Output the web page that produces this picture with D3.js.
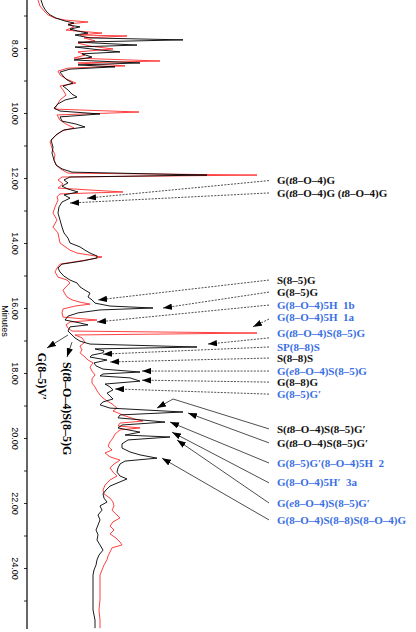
<!DOCTYPE html>
<html><head><meta charset="utf-8">
<script src="https://cdn.jsdelivr.net/npm/d3@7"></script>
<style>body{margin:0;background:#fff}svg{display:block}</style>
</head><body><svg id="c" width="416" height="632"></svg>
<script>
// ---- data (retention time in minutes, detector signal in arbitrary units) ----
const blackTime = [6.52,6.71,6.86,6.98,7.08,7.17,7.23,7.29,7.35,7.42,7.48,7.54,7.60,7.69,7.75,7.82,7.91,7.97,8.06,8.12,8.18,8.28,8.37,8.46,8.52,8.58,8.65,8.74,8.86,8.98,9.08,9.17,9.29,9.42,9.51,9.60,9.72,9.85,9.94,10.03,10.12,10.25,10.34,10.43,10.52,10.65,10.83,11.05,11.23,11.45,11.60,11.72,11.82,11.91,11.97,12.06,12.15,12.25,12.34,12.43,12.52,12.62,12.74,12.89,13.08,13.29,13.51,13.69,13.85,14.00,14.12,14.22,14.31,14.40,14.46,14.55,14.65,14.77,14.89,15.02,15.14,15.23,15.35,15.45,15.54,15.66,15.75,15.85,15.94,16.00,16.06,16.15,16.25,16.37,16.46,16.52,16.58,16.71,16.83,16.92,17.02,17.11,17.20,17.26,17.32,17.38,17.45,17.51,17.60,17.69,17.78,17.88,17.97,18.03,18.09,18.15,18.25,18.34,18.43,18.52,18.62,18.71,18.80,18.89,18.98,19.08,19.20,19.29,19.38,19.51,19.60,19.69,19.82,19.91,19.97,20.06,20.18,20.31,20.43,20.52,20.62,20.71,20.80,20.92,21.05,21.17,21.26,21.35,21.48,21.60,21.72,21.85,21.97,22.09,22.22,22.37,22.52,22.68,22.83,22.98,23.14,23.29,23.45,23.60,23.75,23.91,24.06,24.22,24.37,24.68,24.98,25.29,25.60,25.85];
const blackSignal = [14,16,19,23,29,38,47,41,53,43,51,61,48,63,156,51,110,48,73,93,55,65,47,113,51,88,43,33,36,40,46,36,41,45,50,38,31,27,33,73,33,35,49,58,37,30,24,26,25,27,29,35,45,180,43,37,41,35,41,51,37,43,35,32,31,33,35,37,41,43,53,58,63,70,70,56,35,31,33,37,43,50,53,58,63,61,65,68,83,126,73,51,41,38,53,61,43,41,45,48,53,63,170,68,77,76,65,63,80,67,69,76,113,76,73,103,113,78,83,86,80,83,86,76,73,83,156,93,91,138,95,91,113,98,143,101,95,95,103,113,130,98,93,91,90,93,100,93,83,79,76,77,80,73,75,71,73,71,69,71,70,73,76,72,70,69,67,66,66,66,66,66,68,68];
const redTime = [6.52,6.71,6.86,6.98,7.08,7.14,7.20,7.26,7.35,7.45,7.54,7.60,7.63,7.69,7.78,7.85,7.94,8.03,8.12,8.22,8.31,8.40,8.46,8.55,8.62,8.71,8.83,8.95,9.08,9.17,9.29,9.45,9.60,9.75,9.88,9.97,10.06,10.22,10.34,10.46,10.55,10.71,10.89,11.08,11.29,11.45,11.63,11.75,11.85,11.91,11.97,12.06,12.18,12.31,12.43,12.49,12.58,12.68,12.89,13.08,13.29,13.51,13.69,14.00,14.22,14.31,14.43,14.52,14.65,14.77,14.89,15.05,15.14,15.23,15.35,15.45,15.57,15.66,15.75,15.82,15.88,15.94,16.03,16.15,16.28,16.37,16.43,16.52,16.62,16.71,16.77,16.83,16.92,17.05,17.17,17.29,17.38,17.51,17.60,17.69,17.82,17.94,18.06,18.18,18.31,18.43,18.55,18.68,18.77,18.86,18.95,19.08,19.17,19.23,19.32,19.42,19.48,19.54,19.63,19.69,19.75,19.88,20.00,20.12,20.25,20.37,20.46,20.58,20.68,20.80,20.92,21.05,21.17,21.29,21.45,21.60,21.72,21.85,21.97,22.09,22.22,22.34,22.46,22.58,22.71,22.83,22.95,23.08,23.20,23.29,23.38,23.51,23.63,23.75,23.91,24.06,24.22,24.37,24.68,24.98,25.29,25.60,25.85];
const redSignal = [11,13,17,21,28,38,61,41,47,39,75,53,100,57,68,51,63,86,51,58,47,133,51,98,41,31,33,39,49,33,36,39,33,30,28,112,30,33,39,47,35,28,23,25,28,27,30,35,41,230,35,31,36,31,96,33,30,31,28,26,30,26,31,33,43,50,75,60,33,30,28,31,40,43,39,36,38,40,45,53,63,48,36,35,36,70,43,39,41,45,230,48,55,58,53,55,53,58,61,66,63,65,68,65,65,68,70,73,76,80,85,90,86,91,98,108,116,93,91,113,93,88,86,83,81,85,78,83,93,87,83,86,90,83,78,76,77,83,86,87,85,89,93,86,83,87,83,89,93,95,85,83,81,80,77,75,73,73,73,73,72,73,73];

const majorTicks = [8,10,12,14,16,18,20,22,24];
const minorTicks = d3.range(7,26);
const axisTitle = "Minutes";

// annotations: label row time, arrow tip (time, signal)
const annotations = [
 {parts:[["G("],["t",1],["8–O–4)G"]], color:"k", labelT:12.08, tipT:12.62, tipI:60},
 {parts:[["G("],["t",1],["8–O–4)G ("],["t",1],["8–O–4)G"]], color:"k", labelT:12.46, tipT:12.77, tipI:43},
 {parts:[["S(8–5)G"]], color:"k", labelT:15.14, tipT:15.75, tipI:71},
 {parts:[["G(8–5)G"]], color:"k", labelT:15.51, tipT:16.00, tipI:136},
 {parts:[["G(8–O–4)5H\u00a0\u00a01b"]], color:"b", labelT:15.91, tipT:16.43, tipI:70},
 {parts:[["G(8–O–4)5H\u00a0\u00a01a"]], color:"b", labelT:16.28, lineT:16.34, tipT:16.58, tipI:226},
 {parts:[["G("],["t",1],["8–O–4)S(8–5)G"]], color:"b", labelT:16.77, lineT:16.92, tipT:17.11, tipI:181},
 {parts:[["SP(8–8)S"]], color:"b", labelT:17.20, tipT:17.42, tipI:76},
 {parts:[["S(8–8)S"]], color:"k", labelT:17.54, tipT:17.66, tipI:83},
 {parts:[["G("],["e",1],["8–O–4)S(8–5)G"]], color:"b", labelT:17.94, tipT:17.94, tipI:115},
 {parts:[["G(8–8)G"]], color:"k", labelT:18.28, tipT:18.22, tipI:115},
 {parts:[["G(8–5)G′"]], color:"b", labelT:18.65, tipT:18.49, tipI:88},
 {parts:[["S("],["t",1],["8–O–4)S(8–5)G′"]], color:"k", labelT:19.72, solid:1, bendT:18.80, bendI:146, tipT:19.08, tipI:130},
 {parts:[["G("],["t",1],["8–O–4)S(8–5)G′"]], color:"k", labelT:20.15, solid:1, tipT:19.23, tipI:161},
 {parts:[["G(8–5)G′(8–O–4)5H\u00a0\u00a02"]], color:"b", labelT:20.77, solid:1, tipT:19.51, tipI:143},
 {parts:[["G(8–O–4)5H′\u00a0\u00a03a"]], color:"b", labelT:21.38, solid:1, tipT:19.82, tipI:145},
 {parts:[["G("],["e",1],["8–O–4)S(8–5)G′"]], color:"b", labelT:22.00, solid:1, tipT:20.06, tipI:150},
 {parts:[["G(8–O–4)S(8–8)S(8–O–4)G"]], color:"b", labelT:22.52, solid:1, tipT:20.62, tipI:135}
];
// rotated side labels
const sideLabels = [
 {parts:[["G(8–5)V′"]], startT:17.38, baseI:11, fromT:16.83, fromI:41, tipT:17.23, tipI:20},
 {parts:[["S("],["t",1],["8–O–4)S(8–5)G"]], startT:17.66, baseI:36, fromT:17.05, fromI:45, tipT:17.51, tipI:40}
];

// ---- drawing ----
const svg = d3.select("#c");
const y = d3.scaleLinear().domain([8,24]).range([48,568]);
const x = d3.scaleLinear().domain([0,389]).range([27,416]);
const colors = {k:"#111", b:"#3a6fe3"};

const defs = svg.append("defs");
defs.append("marker").attr("id","ah").attr("viewBox","0 0 10 7")
  .attr("refX",10).attr("refY",3.5).attr("markerWidth",9).attr("markerHeight",6.5)
  .attr("markerUnits","userSpaceOnUse").attr("orient","auto")
  .append("path").attr("d","M0,0L10,3.5L0,7Z").attr("fill","#000");

// axis
const ax = svg.append("g").attr("transform","translate(27,0)")
  .call(d3.axisLeft(y).tickValues(minorTicks).tickSize(3)
    .tickFormat(d => majorTicks.includes(d) ? d.toFixed(2) : ""));
ax.select(".domain").remove();
ax.selectAll(".tick line").attr("stroke","#000").attr("stroke-width",0.8);
ax.selectAll(".tick text").attr("transform","rotate(90)").attr("x",0).attr("y",15.5)
  .attr("dy",0).attr("text-anchor","middle")
  .style("font-family","'Liberation Sans',Arial,sans-serif").style("font-size","9px").attr("fill","#000");
svg.append("line").attr("x1",27).attr("x2",27).attr("y1",0).attr("y2",629)
  .attr("stroke","#000").attr("stroke-width",1.2);
svg.append("text").attr("transform",`translate(2,${y(16.4)}) rotate(90)`)
  .attr("text-anchor","middle").style("font-family","'Liberation Sans',Arial,sans-serif")
  .style("font-size","9px").text(axisTitle);

// traces
const line = d3.line().x(d => x(d[1])).y(d => y(d[0]));
svg.append("path").datum(d3.zip(redTime, redSignal)).attr("d", line)
  .attr("fill","none").attr("stroke","#ff2b2b").attr("stroke-width",0.9).attr("stroke-linejoin","round");
svg.append("path").datum(d3.zip(blackTime, blackSignal)).attr("d", line)
  .attr("fill","none").attr("stroke","#000").attr("stroke-width",0.9).attr("stroke-linejoin","round");

function addParts(t, parts){
  parts.forEach(p => t.append("tspan").text(p[0]).style("font-style", p[1] ? "italic" : "normal"));
}

// right-side labels
const labelLeft = 277, lineStart = 269;
annotations.forEach(a => {
  const ly = y(a.labelT);
  const t = svg.append("text").attr("x",labelLeft).attr("y",ly).attr("dy","0.33em")
    .style("font-family","'Liberation Serif','Times New Roman',serif").style("font-weight","bold")
    .style("font-size","11px").attr("fill",colors[a.color]);
  addParts(t, a.parts);
  const pts = [[lineStart, y(a.lineT ?? a.labelT)]];
  if (a.bendT !== undefined) pts.push([x(a.bendI), y(a.bendT)]);
  pts.push([x(a.tipI), y(a.tipT)]);
  svg.append("path").attr("d", d3.line()(pts)).attr("fill","none")
    .attr("stroke","#222").attr("stroke-width",0.8)
    .attr("stroke-dasharray", a.solid ? null : "2,1.3")
    .attr("marker-end","url(#ah)");
});

// rotated side labels
sideLabels.forEach(s => {
  const t = svg.append("text").attr("transform",`translate(${x(s.baseI)},${y(s.startT)}) rotate(90)`)
    .style("font-family","'Liberation Serif','Times New Roman',serif").style("font-weight","bold")
    .style("font-size","12px").attr("fill","#000");
  addParts(t, s.parts);
  svg.append("line").attr("x1",x(s.fromI)).attr("y1",y(s.fromT)).attr("x2",x(s.tipI)).attr("y2",y(s.tipT))
    .attr("stroke","#222").attr("stroke-width",0.8).attr("marker-end","url(#ah)");
});
</script></body></html>
